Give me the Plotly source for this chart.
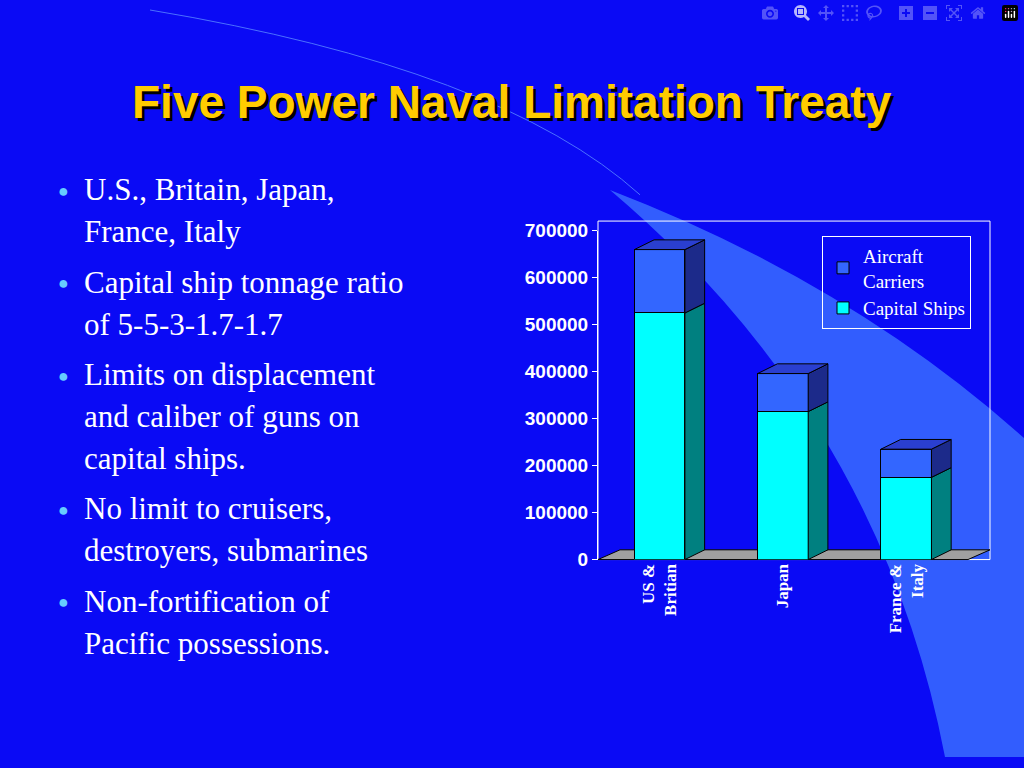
import plotly.graph_objects as go

categories = ["US &<br>Britian", "Japan", "France &<br>Italy"]
capital_ships = [525000, 315000, 175000]
aircraft_carriers = [135000, 81000, 60000]
y_ticks = [0, 100000, 200000, 300000, 400000, 500000, 600000, 700000]
bullets = [["U.S., Britain, Japan,", "France, Italy"],
           ["Capital ship tonnage ratio", "of 5-5-3-1.7-1.7"],
           ["Limits on displacement", "and caliber of guns on", "capital ships."],
           ["No limit to cruisers,", "destroyers, submarines"],
           ["Non-fortification of", "Pacific possessions."]]

W, H = 1024, 768
px = lambda x: x / W
py = lambda y: 1 - y / H

fig = go.Figure()
xs = list(range(len(categories)))
bw, dx, dy = 0.41, 0.16, 20700

def face(x0, x1, y0, y1, color, ddx, ddy, kind):
    if kind == "side":
        X = [x1, x1 + ddx, x1 + ddx, x1, x1]
        Y = [y0, y0 + ddy, y1 + ddy, y1, y0]
    else:
        X = [x0, x0 + ddx, x1 + ddx, x1, x0]
        Y = [y1, y1 + ddy, y1 + ddy, y1, y1]
    fig.add_trace(go.Scatter(x=X, y=Y, fill="toself", fillcolor=color, mode="lines",
                             line=dict(color="black", width=1), showlegend=False, hoverinfo="skip"))

fig.add_trace(go.Bar(x=xs, y=capital_ships, width=bw, name="Capital Ships",
                     marker=dict(color="#00FFFF", line=dict(color="black", width=1))))
fig.add_trace(go.Bar(x=xs, y=aircraft_carriers, width=bw, name="Aircraft<br>Carriers",
                     marker=dict(color="#3366FF", line=dict(color="black", width=1))))
for i, (c, a) in enumerate(zip(capital_ships, aircraft_carriers)):
    x0, x1 = i - bw / 2, i + bw / 2
    face(x0, x1, 0, c, "#008080", dx, dy, "side")
    face(x0, x1, c, c + a, "#1c2a8a", dx, dy, "side")
    face(x0, x1, 0, c + a, "#2a3fd0", dx, dy, "top")

shapes = [
    dict(type="path", xref="paper", yref="paper", layer="below",
         path=f"M {px(610)},{py(185)} Q {px(850)},{py(280)} {px(1024)},{py(440)} L {px(1024)},{py(768)} L {px(945)},{py(768)} Q {px(880)},{py(420)} {px(610)},{py(185)} Z",
         fillcolor="#3a6cff", line=dict(width=0), opacity=0.85),
    dict(type="path", xref="paper", yref="paper", layer="below",
         path=f"M {px(150)},{py(0)} Q {px(500)},{py(60)} {px(640)},{py(190)}",
         line=dict(color="#4a70ff", width=1)),
    dict(type="rect", xref="paper", yref="paper", x0=px(598), x1=px(990), y0=py(565), y1=py(217),
         line=dict(color="white", width=1), layer="below"),
    dict(type="path", xref="paper", yref="paper",
         path=f"M {px(598)},{py(565)} L {px(620)},{py(555)} L {px(990)},{py(555)} L {px(968)},{py(565)} Z",
         fillcolor="#a0a0a0", line=dict(color="black", width=1), layer="below"),
]

ann = [dict(text="<b>Five Power Naval Limitation Treaty</b>", x=px(512 + 3), y=py(95 + 3), xref="paper", yref="paper",
            showarrow=False, yanchor="middle", font=dict(family="Liberation Sans", size=46, color="black")),
       dict(text="<b>Five Power Naval Limitation Treaty</b>", x=px(512), y=py(95), xref="paper", yref="paper",
            showarrow=False, yanchor="middle", font=dict(family="Liberation Sans", size=46, color="#FFCC00"))]
y = 185
for b in bullets:
    ann.append(dict(text="●", x=px(56), y=py(y), xref="paper", yref="paper", showarrow=False,
                    yanchor="middle", font=dict(size=18, color="#66CCFF")))
    for line in b:
        ann.append(dict(text=line, x=px(82), y=py(y), xref="paper", yref="paper", showarrow=False,
                        xanchor="left", yanchor="middle",
                        font=dict(family="Liberation Serif", size=31, color="white")))
        y += 43
    y += 9

fig.update_layout(
    width=W, height=H, margin=dict(l=0, r=0, t=0, b=0),
    paper_bgcolor="#0A0AF5", plot_bgcolor="rgba(0,0,0,0)", barmode="stack",
    shapes=shapes, annotations=ann,
    legend=dict(x=px(822), y=py(232), xanchor="left", yanchor="top", bordercolor="white", borderwidth=1,
                bgcolor="rgba(0,0,0,0)", traceorder="reversed", itemwidth=30,
                font=dict(family="Liberation Serif", size=19, color="white")),
    xaxis=dict(domain=[px(598), px(990)], range=[-0.5, 2.68], tickvals=xs, ticktext=[f"<b>{c}</b>" for c in categories],
               tickangle=-90, showgrid=False, zeroline=False, showline=False,
               tickfont=dict(family="Liberation Serif", size=17, color="white")),
    yaxis=dict(domain=[py(565), py(227)], range=[0, 700000], tickvals=y_ticks, ticktext=[f"<b>{v}</b>" for v in y_ticks],
               showgrid=False, zeroline=False, showline=True, linecolor="white", ticks="outside", tickcolor="white",
               tickfont=dict(family="Liberation Sans", size=19, color="white")),
)
fig.write_html("out.html")
with open("out.html", encoding="utf-8") as f:
    html = f.read()
html = html.replace("<head>", "<head><style>html,body{margin:0;padding:0;overflow:hidden;background:#0A0AF5}</style>", 1)
with open("out.html", "w", encoding="utf-8") as f:
    f.write(html)
